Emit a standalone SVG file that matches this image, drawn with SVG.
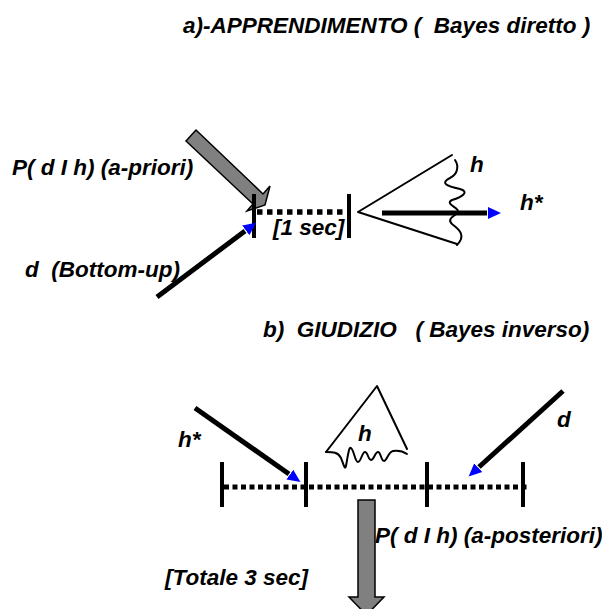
<svg xmlns="http://www.w3.org/2000/svg" width="602" height="609" viewBox="0 0 602 609">
<style>
text{font-family:"Liberation Sans",Arial,sans-serif;font-weight:bold;font-style:italic;font-size:22.5px;fill:#000;white-space:pre}
.bar{stroke:#000;stroke-width:4;fill:none}
.dots{stroke:#000;stroke-width:5.5;stroke-dasharray:5.5 4.5;fill:none}
.dots2{stroke:#000;stroke-width:5;stroke-dasharray:5 3.5;fill:none}
.thin{stroke:#000;stroke-width:2;fill:none;stroke-linejoin:round;stroke-linecap:round}
.conn{stroke:#000;stroke-width:5;fill:none}
.block{fill:#808080;stroke:#000;stroke-width:1.5;stroke-linejoin:miter}
</style>
<defs>
<marker id="blue" markerUnits="userSpaceOnUse" markerWidth="16" markerHeight="14" viewBox="0 0 16 14" refX="-1" refY="7" orient="auto">
<path d="M0,1 L13,7 L0,13 z" fill="#0000ff"/>
</marker>
</defs>

<g id="title-a"><text x="183" y="33">a)-APPRENDIMENTO (  Bayes diretto )</text></g>

<g id="prior">
<polygon class="block" points="196,130 263,194 270,186 265,205 247,211 253,204 186,141"/>
<text x="12" y="175">P( d I h) (a-priori)</text>
</g>

<g id="timeline-a">
<line class="dots" x1="257" y1="212" x2="346" y2="212"/>
<line class="bar" x1="254" y1="194" x2="254" y2="238"/>
<line class="bar" x1="349" y1="194" x2="349" y2="238"/>
<text x="273" y="235">[1 sec]</text>
</g>

<g id="bottom-up"><text x="25" y="277">d  (Bottom-up)</text></g>

<g id="hypotheses-a">
<polyline class="thin" points="452,155 358,212 457,244"/>
<path class="thin" d="M455,160 C459,166 458,174 450,178 C440,183 446,186 460,189 C470,192 462,197 452,200 C444,204 460,208 458,212 C456,216 446,218 452,224 C460,230 466,236 457,245"/>
<text x="470" y="172">h</text>
<text x="520" y="210">h*</text>
</g>

<g id="title-b"><text x="263" y="337">b)  GIUDIZIO   ( Bayes inverso)</text></g>

<g id="timeline-b">
<line class="dots2" x1="224" y1="487" x2="527" y2="487"/>
<line class="bar" x1="222" y1="462" x2="222" y2="507"/>
<line class="bar" x1="306" y1="462" x2="306" y2="507"/>
<line class="bar" x1="427" y1="462" x2="427" y2="507"/>
<line class="bar" x1="523" y1="462" x2="523" y2="507"/>
</g>

<g id="hstar-b"><text x="178" y="447">h*</text></g>

<g id="hypothesis-b">
<polyline class="thin" points="326,452 377,386 407,449"/>
<path class="thin" d="M326,452 C333,452 338,452 341,458 C344,466 345,470 346,466 C348,455 349,446 351,448 C354,450 355,462 358,462 C361,462 362,452 365,452 C368,452 368,460 371,460 C374,460 375,452 378,452 C381,452 381,461 384,461 C387,461 388,452 393,451 C399,450 404,452 407,454"/>
<text x="358" y="441">h</text>
</g>

<g id="data-b"><text x="557" y="427">d</text></g>

<g id="posterior">
<polygon class="block" points="358,500 375,500 375,597 384,597 366.5,615 349,597 358,597"/>
<text x="375" y="543">P( d I h) (a-posteriori)</text>
</g>

<g id="total"><text x="165" y="585">[Totale 3 sec]</text></g>

<g id="connectors">
<line class="conn" x1="157" y1="297" x2="245" y2="231" marker-end="url(#blue)"/>
<line class="conn" x1="382" y1="213" x2="487" y2="213" stroke-width="6" marker-end="url(#blue)"/>
<line class="conn" x1="195" y1="408" x2="289" y2="474" marker-end="url(#blue)"/>
<line class="conn" x1="563" y1="391" x2="479" y2="467" marker-end="url(#blue)"/>
</g>
</svg>
